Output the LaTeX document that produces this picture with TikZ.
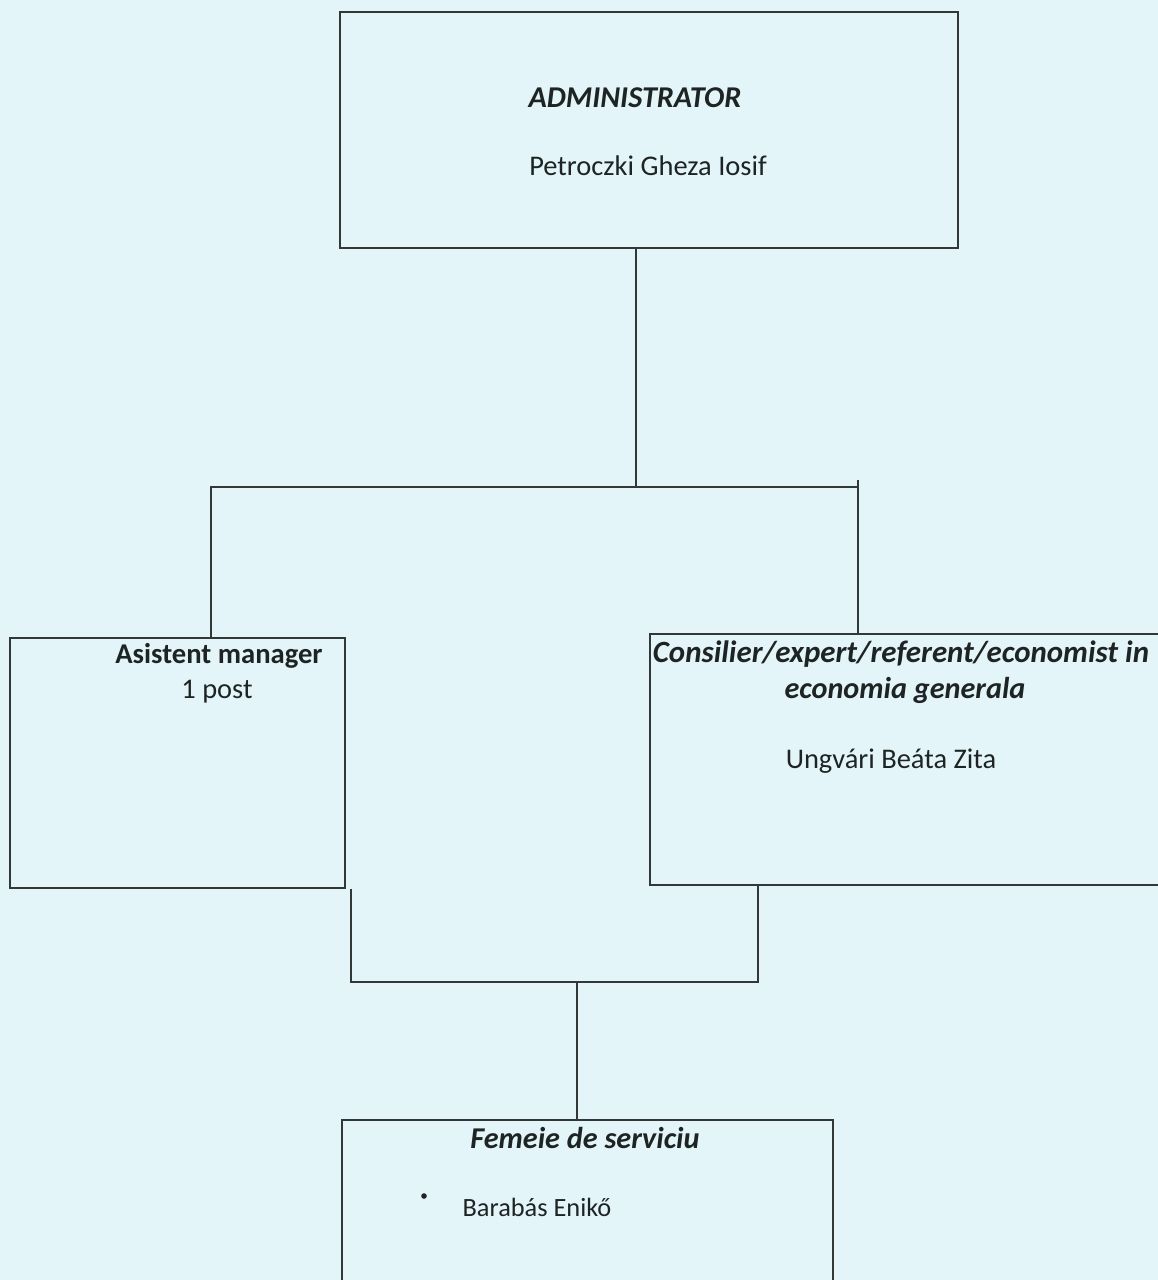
\documentclass[tikz,border=0pt]{standalone}
\usepackage{fontspec}
\setmainfont{Carlito}
\definecolor{paper}{RGB}{228,245,249}
\definecolor{ink}{RGB}{50,55,55}
\definecolor{textink}{RGB}{30,36,36}
\begin{document}
\begin{tikzpicture}[x=0.02cm,y=-0.02cm,
  box/.style={draw=ink,line width=1.1pt,rectangle,inner sep=0pt},
  openbox/.style={rectangle,inner sep=0pt},
  conn/.style={draw=ink,line width=1.1pt},
  txt/.style={text=textink,inner sep=0pt,font=\fontsize{16.2}{19}\selectfont,anchor=base},
  boldit/.style={txt,font=\fontsize{17.2}{20}\selectfont\bfseries\itshape},
  bold/.style={txt,font=\fontsize{16.3}{19}\selectfont\bfseries}]
\fill[paper] (0,0) rectangle (1158,1280);
\useasboundingbox (0,0) rectangle (1158,1280);
% boxes
\node[box,minimum width=12.36cm,minimum height=4.72cm] (admin) at (649,130) {};
\node[box,minimum width=6.7cm,minimum height=5cm] (lbox) at (177.5,763) {};
\node[openbox,minimum width=10.16cm,minimum height=5.02cm] (rbox) at (904,759.5) {};
\draw[conn] (rbox.north east) -- (rbox.north west) -- (rbox.south west) -- (rbox.south east);
\node[openbox,minimum width=9.82cm,minimum height=3.2cm] (bbox) at (587.5,1200) {};
\draw[conn] (bbox.south west) -- (bbox.north west) -- (bbox.north east) -- (bbox.south east);
% texts
\node[boldit] (t1) at (635,108) {ADMINISTRATOR};
\node[txt] (t2) at (648,176) {Petroczki Gheza Iosif};
\node[bold] (t3) at (219,663) {Asistent manager};
\node[txt] (t4) at (217,698) {1 post};
\node[boldit,font=\fontsize{17.6}{20}\selectfont\bfseries\itshape] (t5) at (901,662) {Consilier/expert/referent/economist in};
\node[boldit] (t6) at (905,698) {economia generala};
\node[txt] (t7) at (891,768) {Ungvári Beáta Zita};
\node[boldit] (t8) at (585,1148) {Femeie de serviciu};
\node[txt,font=\fontsize{15}{18}\selectfont] (t9) at (537,1216) {Barabás Enikő};
\fill[textink] (424,1196) circle (2.8);
% connectors
\coordinate (j1) at (636,487);
\coordinate (jl) at (211,487);
\coordinate (jr) at (858,487);
\coordinate (jrt) at (858,480);
\draw[conn] (admin.south -| j1) -- (j1);
\draw[conn] (lbox.north -| jl) -- (jl) -- (jr) -- (rbox.north -| jr);
\draw[conn] (jr) -- (jrt);
\coordinate (k1) at (351,982);
\coordinate (k2) at (758,982);
\coordinate (k3) at (577,982);
\draw[conn] (lbox.south -| k1) -- (k1) -- (k2) -- (rbox.south -| k2);
\draw[conn] (k3) -- (bbox.north -| k3);
\end{tikzpicture}
\end{document}
